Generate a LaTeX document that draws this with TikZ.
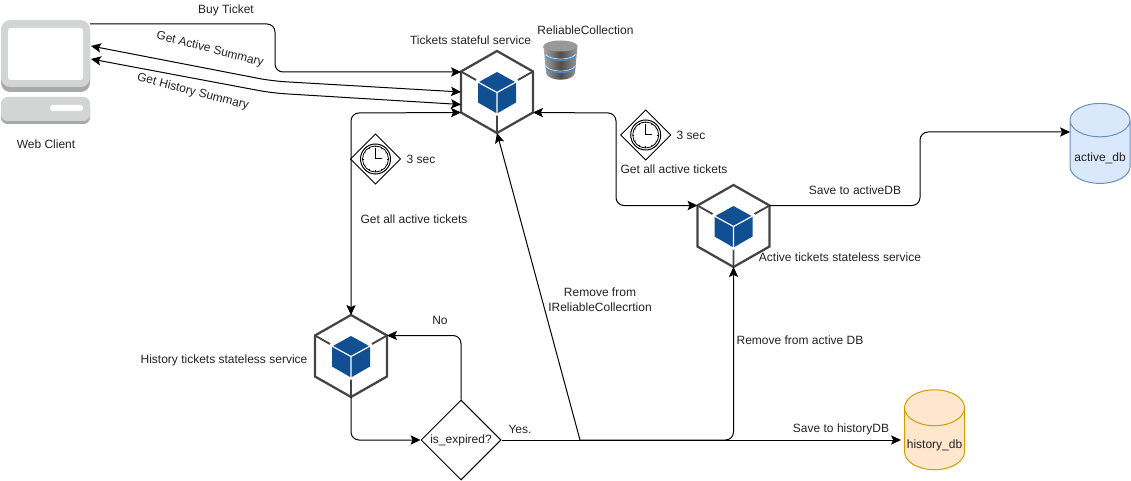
\documentclass[tikz,border=0pt]{standalone}
\usepackage{fontspec}
\setmainfont{Liberation Sans}
\usetikzlibrary{arrows.meta,shapes.geometric,calc}
\definecolor{hexgray}{HTML}{444444}
\definecolor{cubeblue}{HTML}{0F4F92}
\definecolor{txt}{HTML}{222222}
\definecolor{pcl}{HTML}{D3D5D5}
\definecolor{pcd}{HTML}{A7A9AB}
\definecolor{bluefill}{HTML}{DAE8FC}
\definecolor{bluestroke}{HTML}{6C8EBF}
\definecolor{orangefill}{HTML}{FFE6CC}
\definecolor{orangestroke}{HTML}{D79B00}
\definecolor{stripe}{HTML}{3F8FD0}
\newcommand{\dbtext}[1]{\raisebox{-4.5pt}[\height][\depth]{#1}}
\tikzset{
  lbl/.style={font=\fontsize{9}{11.2}\selectfont,text=txt,inner sep=0pt,align=center},
  conn/.style={draw=black,line width=0.75pt,rounded corners=6pt},
  tip/.style={-{Stealth[length=7.5pt,width=7pt,inset=1.6pt]}},
  tips/.style={{Stealth[length=7.5pt,width=7pt,inset=1.6pt]}-{Stealth[length=7.5pt,width=7pt,inset=1.6pt]}},
  db/.style={cylinder,shape border rotate=90,aspect=0.65,draw,line width=0.75pt,
    minimum width=45pt,minimum height=60pt,inner sep=0pt,
    font=\fontsize{9}{11}\selectfont,text=txt,cylinder uses custom fill},
  svcpic/.pic={
    \coordinate (-tl) at (-36,-20.5);
    \coordinate (-tr) at (36,-20.5);
    \coordinate (-bl) at (-36,20.5);
    \coordinate (-br) at (36,20.5);
    \coordinate (-t) at (0,-41);
    \coordinate (-b) at (0,41);
    \draw[hexgray,line width=1.7pt,line join=miter] (-t)--(-tr)--(-br)--(-b)--(-bl)--(-tl)--cycle;
    \draw[hexgray,line width=1.4pt] (-tl)--(-21,-12) (-tr)--(21,-12) (-b)--(0,23);
    \fill[cubeblue] (0,-20)--(19,-9.5)--(19,10.5)--(0,21.5)--(-19,10.5)--(-19,-9.5)--cycle;
    \draw[white,line width=0.9pt] (-21,-11)--(0,0.5)--(21,-11) (0,0.5)--(0,24);
  },
  clockpic/.pic={
    \draw[black,line width=0.75pt] (-25,0)--(0,-25)--(25,0)--(0,25)--cycle;
    \draw[black,line width=0.75pt] (0,0) circle[radius=15];
    \draw[black,line width=0.6pt] (0,0) circle[radius=13];
    \foreach \a in {0,30,...,330}{
      \draw[black,line width=0.4pt] ({11.5*cos(\a)},{11.5*sin(\a)})--({13*cos(\a)},{13*sin(\a)});
    }
    \draw[black,line width=0.75pt] (0,-11)--(0,0)--(6,0);
  }
}
\begin{document}
\begin{tikzpicture}[x=0.75pt,y=-0.75pt]
\useasboundingbox (0,0) rectangle (1131,481);
% web client
\fill[pcd,rounded corners=7pt] (1,26) rectangle (90,92);
\fill[pcl,rounded corners=7pt] (1,20) rectangle (90,87);
\fill[white,rounded corners=2pt] (8,28) rectangle (83,80);
\fill[pcd,rounded corners=5pt] (1,102) rectangle (90,124);
\fill[pcl,rounded corners=5pt] (1,97) rectangle (90,121);
\fill[white,rounded corners=2pt] (50,105) rectangle (83,111);
\node[lbl] (webl) at (46,144) {Web Client};
\coordinate (web) at (90,24);
\coordinate (weba) at (91,46);
\coordinate (webh) at (91,59);
% services
\pic (tk) at (497,92) {svcpic};
\pic (ac) at (733.5,226) {svcpic};
\pic (hi) at (351,356) {svcpic};
\coordinate (tka) at (461,92);
\coordinate (tkh) at (461,104.5);
\node[lbl] (tkl) at (470.5,40) {Tickets stateful service};
\node[lbl] (rcl) at (585.5,30) {ReliableCollection};
\node[lbl] (acl) at (840,257.5) {Active tickets stateless service};
\node[lbl] (hil) at (224,360) {History tickets stateless service};
% reliable collection icon
\begin{scope}
  \shade[left color=black!35,right color=black!40,middle color=black!70]
    (543.5,46) -- (546,73) .. controls (548,82) and (573,82) .. (575,73) -- (577.5,46) -- cycle;
  \fill[black!40] (560.5,46) circle[x radius=17,y radius=5.5];
  \draw[stripe,line width=1pt] (546,56) .. controls (550,62) and (571,62) .. (575,56);
  \draw[stripe,line width=1pt] (546,68) .. controls (550,74) and (571,74) .. (575,68);
  \draw[white,line width=0.5pt,opacity=.8] (545.5,54.5) .. controls (550,60.5) and (571,60.5) .. (575.5,54.5);
  \draw[white,line width=0.5pt,opacity=.8] (546,66.5) .. controls (550,72.5) and (571,72.5) .. (575,66.5);
\end{scope}
% clocks
\pic (ckl) at (375.5,159) {clockpic};
\pic (ckr) at (645.7,135) {clockpic};
\node[lbl] at (421,159.5) {3 sec};
\node[lbl] at (691,135.5) {3 sec};
\node[lbl] at (414,219) {Get all active tickets};
\node[lbl] at (674,169.5) {Get all active tickets};
% decision
\node[draw=black,line width=0.75pt,diamond,minimum width=60pt,minimum height=60pt,inner sep=0pt,
  font=\fontsize{9}{11}\selectfont,text=txt] (dec) at (461,440) {is\_expired?};
% databases
\node[db,draw=bluestroke,cylinder body fill=bluefill,cylinder end fill=bluefill] (adb) at (1100,152) {\dbtext{active\_db}};
\node[db,draw=orangestroke,cylinder body fill=orangefill,cylinder end fill=orangefill] (hdb) at (934.5,439) {\dbtext{history\_db}};
\coordinate (adbw) at (1070,132);
\coordinate (hdbw) at (901,440);
\coordinate (yes) at (580,440);
% connectors
\draw[conn,tip] (web) -- (275,24) -- (275,72) -- (461,72);
\draw[conn,tips,rounded corners=10pt] (tka) -- (272,81) -- (weba);
\draw[conn,tips,rounded corners=10pt] (tkh) -- (272,93) -- (webh);
\draw[conn,tips] (hi-t) -- (351,113) -- (tk-bl);
\draw[conn,tips] (tk-br) -- (616,113) -- (616,205.5) -- (ac-tl);
\draw[conn,tip] (ac-tr) -- (920,205.5) -- (920,132) -- (adbw);
\draw[conn,tip] (hi-b) -- (351,440) -- (dec.west);
\draw[conn,tip] (dec.north) -- (461,335.5) -- (hi-tr);
\draw[conn] (dec.east) -- (yes);
\draw[conn,tip] (yes) -- (733.5,440) -- (ac-b);
\draw[conn,tip] (yes) -- (hdbw);
\draw[conn,tip] (yes) -- (tk-b);
% connector labels
\node[lbl] at (226,10) {Buy Ticket};
\node[lbl,rotate=-14.5] at (210,49.5) {Get Active Summary};
\node[lbl,rotate=-14.5] at (193,92) {Get History Summary};
\node[lbl] at (440,320.5) {No};
\node[lbl] at (520,429.5) {Yes.};
\node[lbl] at (600,299.5) {Remove from\\IReliableCollecrtion};
\node[lbl] at (800,340) {Remove from active DB};
\node[lbl] at (855,190) {Save to activeDB};
\node[lbl] at (841,429.5) {Save to historyDB};
\end{tikzpicture}
\end{document}
